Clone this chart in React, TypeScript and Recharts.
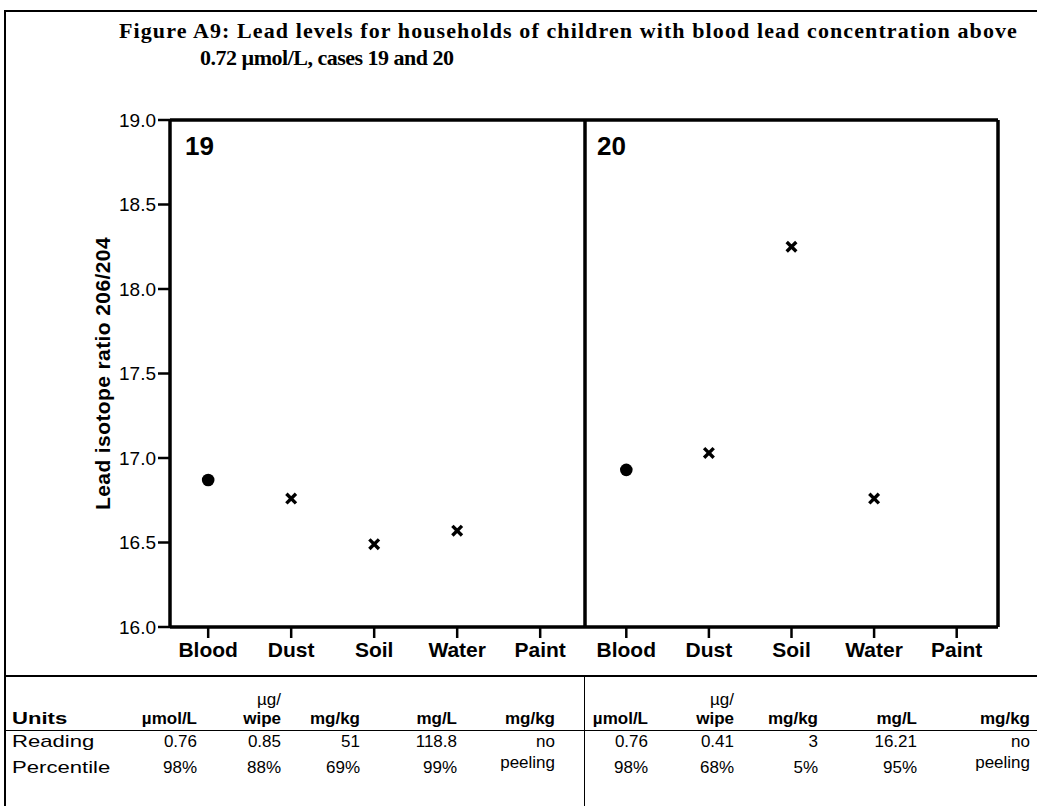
import React from "react";
import { ScatterChart, Scatter, XAxis, YAxis, ReferenceLine } from "recharts";

// source categories and the 206/204 isotope ratios
const categories = ["Blood", "Dust", "Soil", "Water", "Paint"];
const case19Ratios: (number | null)[] = [16.87, 16.76, 16.49, 16.57, null];
const case20Ratios: (number | null)[] = [16.93, 17.03, 18.25, 16.76, null];
const yTicks = [16.0, 16.5, 17.0, 17.5, 18.0, 18.5, 19.0];

// table below the panels
const unitsTop = ["", "\u00b5g/", "", "", ""];
const units = ["\u00b5mol/L", "wipe", "mg/kg", "mg/L", "mg/kg"];
const case19Reading = ["0.76", "0.85", "51", "118.8", "no"];
const case19Percentile = ["98%", "88%", "69%", "99%", "peeling"];
const case20Reading = ["0.76", "0.41", "3", "16.21", "no"];
const case20Percentile = ["98%", "68%", "5%", "95%", "peeling"];
const rowLabels = ["Units", "Reading", "Percentile"];

const SANS = "'Liberation Sans', Arial, sans-serif";
const SERIF = "'Liberation Serif', 'Times New Roman', serif";

const toPoints = (vals: (number | null)[]) =>
  vals
    .map((v, i) => ({ x: i, y: v, kind: categories[i] }))
    .filter((p) => p.y !== null);

const Mark = (props: any) => {
  const { cx, cy, payload } = props;
  if (cx == null || cy == null) return <g />;
  if (payload.kind === "Blood") {
    return <circle cx={cx} cy={cy} r={6.3} fill="#000" />;
  }
  const s = 4.8;
  return (
    <path
      d={`M${cx - s},${cy - s}L${cx + s},${cy + s}M${cx + s},${cy - s}L${cx - s},${cy + s}`}
      stroke="#000"
      strokeWidth={3.4}
      fill="none"
    />
  );
};

const axisLine = { stroke: "#000", strokeWidth: 3.5 };
const tickLine = { stroke: "#000", strokeWidth: 2.5 };

function Panel({
  values,
  showY,
  domain,
  left,
  width,
}: {
  values: (number | null)[];
  showY: boolean;
  domain: [number, number];
  left: number;
  width: number;
}) {
  return (
    <div style={{ position: "absolute", left, top: 103 }}>
      <ScatterChart width={width} height={568} margin={{ top: 17, right: 2, bottom: 0, left: 0 }}>
        <XAxis
          type="number"
          dataKey="x"
          domain={domain}
          ticks={[0, 1, 2, 3, 4]}
          tickFormatter={(i: number) => categories[i]}
          axisLine={axisLine}
          tickLine={tickLine}
          tickSize={11}
          tickMargin={4}
          height={44}
          tick={{ fill: "#000", fontSize: 21, fontWeight: 700, fontFamily: SANS }}
        />
        <YAxis
          type="number"
          dataKey="y"
          domain={[16, 19]}
          ticks={yTicks}
          tickFormatter={(v: number) => v.toFixed(1)}
          axisLine={axisLine}
          tickLine={showY ? tickLine : false}
          tickSize={12}
          tickMargin={2}
          width={showY ? 80 : 0}
          tick={showY ? { fill: "#000", fontSize: 19, fontFamily: SANS } : false}
          label={
            showY
              ? {
                  value: "Lead isotope ratio 206/204",
                  angle: -90,
                  position: "insideLeft",
                  offset: 13,
                  style: { textAnchor: "middle", fill: "#000", fontSize: 21, fontWeight: 700, fontFamily: SANS, letterSpacing: 0.4 },
                }
              : undefined
          }
        />
        {/* top and right edges of the panel box */}
        <ReferenceLine y={19} stroke="#000" strokeWidth={3.5} ifOverflow="visible" />
        <ReferenceLine x={domain[1]} stroke="#000" strokeWidth={3.5} ifOverflow="visible" />
        <Scatter data={toPoints(values)} shape={Mark} isAnimationActive={false} />
      </ScatterChart>
    </div>
  );
}

const colRight19 = [197, 281, 360, 457, 555];
const colRight20 = [648, 734, 818, 917, 1030];

function Cell({ text, right, top, bold }: { text: string; right: number; top: number; bold?: boolean }) {
  return (
    <div
      style={{
        position: "absolute",
        right: 1037 - right,
        top,
        fontFamily: SANS,
        fontSize: 17,
        fontWeight: bold ? 700 : 400,
        lineHeight: "18px",
        whiteSpace: "nowrap",
      }}
    >
      {text}
    </div>
  );
}

export default function App() {
  const rows = (cols: number[], reading: string[], pct: string[]) =>
    cols.map((r, i) => (
      <React.Fragment key={r}>
        {unitsTop[i] && <Cell text={unitsTop[i]} right={r} top={691} />}
        <Cell text={units[i]} right={r} top={710} bold />
        <Cell text={reading[i]} right={r} top={733} />
        <Cell text={pct[i]} right={r} top={i === 4 ? 754 : 759} />
      </React.Fragment>
    ));

  const rowTops = [709, 732, 758];

  return (
    <div
      style={{
        position: "absolute",
        left: 0,
        top: 0,
        width: 1037,
        height: 806,
        background: "#fff",
        overflow: "hidden",
      }}
    >
      {/* outer frame */}
      <div style={{ position: "absolute", left: 4, top: 10, width: 1040, height: 800, borderTop: "2px solid #000", borderLeft: "2px solid #000" }} />
      <div
        style={{
          position: "absolute",
          left: 119,
          top: 17,
          fontFamily: SERIF,
          fontWeight: 700,
          fontSize: 22,
          lineHeight: "27px",
          whiteSpace: "nowrap",
        }}
      >
        <div style={{ letterSpacing: 1.1 }}>
          Figure A9: Lead levels for households of children with blood lead concentration above
        </div>
        <div style={{ paddingLeft: 81, letterSpacing: -0.5 }}>0.72 {"\u00b5"}mol/L, cases 19 and 20</div>
      </div>

      <Panel values={case19Ratios} showY domain={[-0.46, 4.54]} left={90} width={497} />
      <Panel values={case20Ratios} showY={false} domain={[-0.5, 4.5]} left={585} width={415} />

      <div style={{ position: "absolute", left: 185, top: 131, fontFamily: SANS, fontWeight: 700, fontSize: 26 }}>19</div>
      <div style={{ position: "absolute", left: 597, top: 131, fontFamily: SANS, fontWeight: 700, fontSize: 26 }}>20</div>

      {/* table */}
      <div style={{ position: "absolute", left: 4, top: 675, width: 1040, borderTop: "2px solid #000" }} />
      <div style={{ position: "absolute", left: 4, top: 730, width: 1040, borderTop: "1.5px solid #000" }} />
      <div style={{ position: "absolute", left: 584, top: 676, height: 130, borderLeft: "1.5px solid #000" }} />
      {rowLabels.map((t, i) => (
        <div
          key={t}
          style={{
            position: "absolute",
            left: 12,
            top: rowTops[i],
            fontFamily: SANS,
            fontSize: 17,
            fontWeight: i === 0 ? 700 : 400,
            lineHeight: "20px",
            transform: "scaleX(1.3)",
            transformOrigin: "left center",
            whiteSpace: "nowrap",
          }}
        >
          {t}
        </div>
      ))}
      {rows(colRight19, case19Reading, case19Percentile)}
      {rows(colRight20, case20Reading, case20Percentile)}
    </div>
  );
}
